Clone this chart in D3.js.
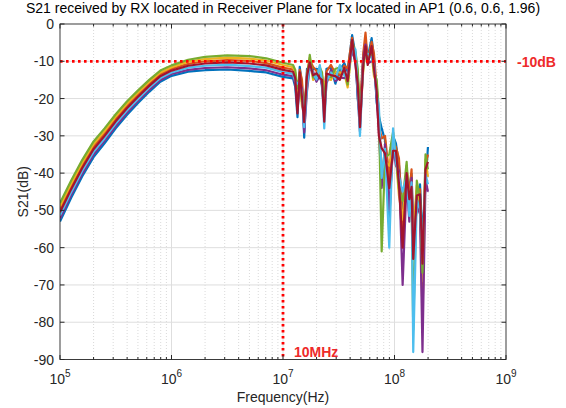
<!DOCTYPE html>
<html><head><meta charset="utf-8">
<script src="https://cdn.jsdelivr.net/npm/d3@7"></script>
<style>
body{margin:0;background:#fff}
text{font-family:"Liberation Sans",Arial,sans-serif}
</style>
</head><body>
<svg id="c" width="566" height="408"></svg>
<script>
// ---------------- DATA ----------------
const freqHz = [
  1.00e5,1.26e5,1.58e5,2.00e5,2.51e5,3.16e5,3.98e5,5.01e5,6.31e5,7.94e5,
  1.00e6,1.41e6,2.00e6,3.16e6,5.01e6,7.08e6,1.00e7,1.23e7,
  1.288e7,1.349e7,1.413e7,1.479e7,1.549e7,1.641e7,1.738e7,1.862e7,1.995e7,2.138e7,
  2.239e7,2.344e7,2.455e7,2.692e7,2.951e7,3.236e7,3.548e7,3.802e7,4.169e7,4.467e7,
  4.677e7,4.898e7,5.248e7,5.495e7,5.754e7,6.237e7,6.546e7,6.918e7,7.244e7,7.674e7,
  8.222e7,8.974e7,9.705e7,1.030e8,1.096e8,1.183e8,1.285e8,1.358e8,1.422e8,1.472e8,
  1.585e8,1.694e8,1.782e8,1.897e8,1.995e8
];
const s21Blue = [
  -53.0,-46.6,-40.9,-35.7,-32.0,-28.0,-24.4,-21.2,-18.2,-15.5,-13.9,-12.8,-12.4,-12.2,-12.6,-13.0,-14.2,-14.6,
  -16.9,-25,-11.5,-16.2,-30.5,-12,-12.3,-12.1,-12,-12.2,-17,-22.5,-12,-11.7,-16,-12.3,-10.5,-12.8,-3,-8.2,
  -20,-25.3,-8.6,-4.3,-9,-3.8,-9,-21,-24.7,-28,-31.2,-53,-30,-32,-37.7,-50,-43,-44,-40.2,-54.3,-50,-43,-57.3,-43,-33
];
const s21Orange = [
  -49.7,-43.5,-38.0,-32.9,-29.3,-25.5,-22.0,-18.9,-16.1,-13.5,-12.0,-10.7,-10.0,-9.7,-9.9,-10.5,-11.7,-12.2,
  -13.8,-21.3,-12.3,-15,-24.8,-13,-9.6,-11.5,-12.6,-13.3,-14.3,-18.8,-12.7,-11,-13.3,-13.7,-11.2,-12,-3.7,-9.6,
  -14.7,-23,-7.8,-2.3,-10,-4.8,-8,-17,-27.3,-30.7,-30,-41,-32,-33,-36,-55,-39,-45.5,-39,-58.7,-44.7,-44.3,-79,-37.7,-35
];
const s21Yellow = [
  -48.8,-42.8,-37.2,-32.2,-28.7,-24.8,-21.4,-18.4,-15.5,-13.0,-11.6,-10.1,-9.4,-9.0,-9.3,-9.8,-11.0,-11.6,
  -13.1,-20,-14.5,-22,-23.4,-16,-9.0,-15,-14.3,-12.8,-13.7,-17,-14.7,-15,-12.7,-13,-13.2,-17,-5.7,-8.9,
  -13.3,-26.5,-12.3,-6.5,-9.5,-7.9,-14,-16,-26,-38.7,-37,-38,-31,-36,-46,-52.5,-38,-50,-46,-56.5,-43.3,-48.3,-69,-36.3,-41
];
const s21Purple = [
  -52.2,-45.8,-40.2,-35.0,-31.3,-27.4,-23.8,-20.6,-17.7,-15.0,-13.4,-12.3,-11.8,-11.6,-11.9,-12.4,-13.6,-14.0,
  -16.1,-22.7,-16,-17.3,-29.1,-18,-11.6,-12.7,-15.5,-13.9,-16.3,-24.3,-16,-12.3,-15.3,-14.3,-14.5,-13.7,-7,-10.3,
  -18.7,-28.8,-9.3,-5.5,-10.5,-10,-10,-20,-28.7,-44,-32.3,-50,-33,-38,-39.3,-70,-42,-53,-41.3,-60.8,-48.7,-51,-88,-41.7,-45
];
const s21Green = [
  -48.0,-42.0,-36.5,-31.5,-28.0,-24.2,-20.8,-17.8,-15.0,-12.5,-11.1,-9.6,-8.8,-8.4,-8.6,-9.2,-10.4,-11.0,
  -12.3,-17.3,-13.8,-20.8,-22,-15,-8.3,-14.4,-13.8,-11.6,-13,-20.7,-14,-14.3,-12,-11.7,-12.5,-16.2,-5,-7.5,
  -12,-24.2,-11.6,-7.5,-8.5,-6.9,-13,-15,-23.3,-61,-35.8,-35,-29,-35,-44.3,-47.5,-37,-48.5,-44.8,-82,-42,-47,-66.7,-35,-39
];
const s21Cyan = [
  -51.3,-45.1,-39.4,-34.3,-30.7,-26.7,-23.2,-20.1,-17.1,-14.5,-13.0,-11.7,-11.2,-10.9,-11.3,-11.7,-12.9,-13.4,
  -15.4,-16,-15.3,-18.5,-27.7,-17,-11.0,-13.3,-14.9,-11,-15.7,-28,-15.3,-13,-14.7,-11,-13.8,-14.5,-6.3,-6.8,
  -17.3,-30,-10.1,-8,-8,-9.0,-11,-19,-22,-41.3,-33.5,-60,-28,-37,-41,-45,-41,-51.5,-42.5,-88,-47.3,-49.7,-62,-40.3,-43
];
const s21Maroon = [
  -50.5,-44.3,-38.7,-33.6,-30.0,-26.1,-22.6,-19.5,-16.6,-14.0,-12.5,-11.2,-10.6,-10.3,-10.6,-11.1,-12.3,-12.8,
  -14.6,-24,-13,-19.7,-26.3,-14,-10.3,-13.8,-13.2,-14.5,-15,-26.2,-13.3,-13.7,-14,-15,-11.8,-15.3,-4.3,-11,
  -16,-27.7,-10.8,-6,-11,-5.9,-12,-18,-30,-33.3,-34.7,-44,-34,-34,-42.7,-60,-40,-47,-43.7,-63,-46,-45.7,-64.3,-39,-37
];
const seriesList = [s21Blue, s21Orange, s21Yellow, s21Purple, s21Green, s21Cyan, s21Maroon];
const seriesColors = ["#0072BD","#D95319","#EDB120","#7E2F8E","#77AC30","#4DBEEE","#A2142F"];

const yTicks = [0,-10,-20,-30,-40,-50,-60,-70,-80,-90];
const xTickExp = [5,6,7,8,9];
const refLevelDb = -10;
const refFreqHz = 1e7;
const titleText = "S21 received by RX located in Receiver Plane for Tx located in AP1 (0.6, 0.6, 1.96)";
const xLabel = "Frequency(Hz)";
const yLabel = "S21(dB)";
const refLevelLabel = "-10dB";
const refFreqLabel = "10MHz";

// ---------------- CHART ----------------
const svg = d3.select("#c");
const L = 60, R = 506, T = 24, B = 359.5;
const x = d3.scaleLog().domain([1e5, 1e9]).range([L, R]);
const y = d3.scaleLinear().domain([-90, 0]).range([B, T]);
const axisCol = "#262626";

svg.append("rect").attr("x",0).attr("y",0).attr("width",566).attr("height",408).attr("fill","#fff");

const minorVals = [];
xTickExp.slice(0,-1).forEach(e => { for (let m = 2; m <= 9; m++) minorVals.push(m * Math.pow(10, e)); });
const majorVals = xTickExp.map(e => Math.pow(10, e));

const grid = svg.append("g");
grid.selectAll(".mg").data(minorVals).join("line")
  .attr("x1", d => x(d)).attr("x2", d => x(d)).attr("y1", T).attr("y2", B)
  .attr("stroke", "#cfcfcf").attr("stroke-width", 0.8).attr("stroke-dasharray", "1,2");
grid.selectAll(".Mg").data(majorVals.slice(1,-1)).join("line")
  .attr("x1", d => x(d)).attr("x2", d => x(d)).attr("y1", T).attr("y2", B)
  .attr("stroke", "#dedede").attr("stroke-width", 1);
grid.selectAll(".yg").data(yTicks.slice(1,-1)).join("line")
  .attr("x1", L).attr("x2", R).attr("y1", d => y(d)).attr("y2", d => y(d))
  .attr("stroke", "#dedede").attr("stroke-width", 1);

svg.append("clipPath").attr("id","clip").append("rect")
  .attr("x", L).attr("y", T).attr("width", R - L).attr("height", B - T);

const line = d3.line().x((d, i) => x(freqHz[i])).y(d => y(d));
svg.append("g").attr("clip-path","url(#clip)")
  .selectAll("path").data(seriesList).join("path")
  .attr("d", d => line(d))
  .attr("fill","none")
  .attr("stroke", (d,i) => seriesColors[i])
  .attr("stroke-width", 2.2)
  .attr("stroke-linejoin","round");

svg.append("line")
  .attr("x1", L).attr("x2", R).attr("y1", y(refLevelDb)).attr("y2", y(refLevelDb))
  .attr("stroke","#ff0000").attr("stroke-width",2.8).attr("stroke-dasharray","2.6,3.4");
svg.append("line")
  .attr("x1", x(refFreqHz)).attr("x2", x(refFreqHz)).attr("y1", T).attr("y2", B)
  .attr("stroke","#ff0000").attr("stroke-width",2.8).attr("stroke-dasharray","2.6,3.4");

const ax = svg.append("g").attr("stroke", axisCol).attr("stroke-width", 1);
ax.append("rect").attr("x", L).attr("y", T).attr("width", R - L).attr("height", B - T)
  .attr("fill","none").attr("stroke", axisCol).attr("stroke-width",0.9);
ax.selectAll(".yt").data(yTicks).join("line")
  .attr("x1", L).attr("x2", L + 4.5).attr("y1", d => y(d)).attr("y2", d => y(d));
ax.selectAll(".yt2").data(yTicks).join("line")
  .attr("x1", R).attr("x2", R - 4.5).attr("y1", d => y(d)).attr("y2", d => y(d));
ax.selectAll(".xt").data(majorVals).join("line")
  .attr("x1", d => x(d)).attr("x2", d => x(d)).attr("y1", B).attr("y2", B - 4.5);
ax.selectAll(".xt2").data(majorVals).join("line")
  .attr("x1", d => x(d)).attr("x2", d => x(d)).attr("y1", T).attr("y2", T + 4.5);
ax.selectAll(".xm").data(minorVals).join("line")
  .attr("x1", d => x(d)).attr("x2", d => x(d)).attr("y1", B).attr("y2", B - 2.5);
ax.selectAll(".xm2").data(minorVals).join("line")
  .attr("x1", d => x(d)).attr("x2", d => x(d)).attr("y1", T).attr("y2", T + 2.5);

svg.selectAll(".yl").data(yTicks).join("text")
  .attr("x", L - 6).attr("y", d => y(d) + 5)
  .attr("text-anchor","end").attr("font-size", 14).attr("fill", axisCol)
  .text(d => d);

const xl = svg.selectAll(".xl").data(xTickExp).join("text")
  .attr("x", d => x(Math.pow(10, d)) ).attr("y", 384)
  .attr("text-anchor","middle").attr("font-size", 14).attr("fill", axisCol);
xl.append("tspan").text("10");
xl.append("tspan").attr("dy", -7).attr("font-size", 10).text(d => d);

svg.append("text").attr("x", (L + R) / 2).attr("y", 402)
  .attr("text-anchor","middle").attr("font-size", 14).attr("fill", axisCol).text(xLabel);
svg.append("text").attr("transform", `translate(28,${(T + B) / 2}) rotate(-90)`)
  .attr("text-anchor","middle").attr("font-size", 14).attr("fill", axisCol).text(yLabel);

svg.append("text").attr("x", 283).attr("y", 13)
  .attr("text-anchor","middle").attr("font-size", 14).attr("fill", "#000").text(titleText);

svg.append("text").attr("x", 517).attr("y", y(refLevelDb) + 5.5)
  .attr("font-size", 14).attr("font-weight","bold").attr("fill","#ee2a2a").text(refLevelLabel);
svg.append("text").attr("x", x(refFreqHz) + 11).attr("y", 357)
  .attr("font-size", 14).attr("font-weight","bold").attr("fill","#ee2a2a").text(refFreqLabel);
</script>
</body></html>
